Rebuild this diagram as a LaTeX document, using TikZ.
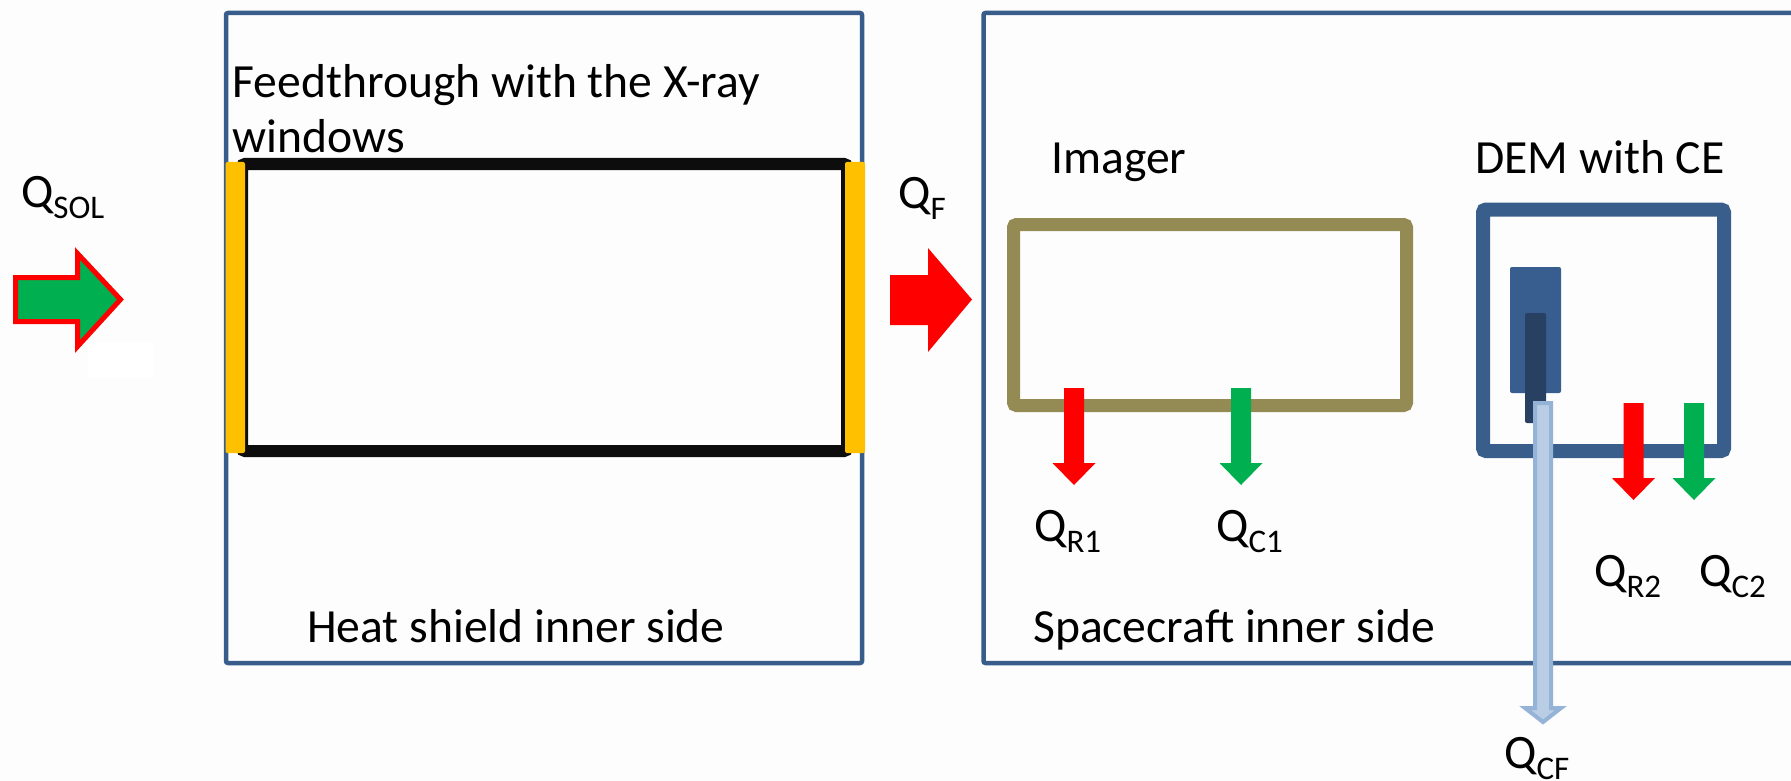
\documentclass[tikz,border=0pt]{standalone}
\usepackage{fontspec}
\setmainfont{Carlito}
\definecolor{frameblue}{RGB}{56,93,138}
\definecolor{demblue}{RGB}{58,94,140}
\definecolor{plugblue}{RGB}{55,94,143}
\definecolor{plugdark}{RGB}{40,64,98}
\definecolor{pipefill}{RGB}{185,205,229}
\definecolor{pipeedge}{RGB}{149,179,215}
\definecolor{flowred}{RGB}{255,0,0}
\definecolor{flowgreen}{RGB}{0,176,80}
\definecolor{windowgold}{RGB}{255,192,0}
\definecolor{imagerolive}{RGB}{148,138,84}
\definecolor{feedblack}{RGB}{13,13,13}
\definecolor{pagebg}{RGB}{253,253,253}
\newcommand{\heatsub}[1]{\raisebox{-11pt}{\fontsize{33}{36}\selectfont #1}}
\tikzset{
  txt/.style={anchor=base west, inner sep=0pt, font=\fontsize{47.6}{55}\selectfont},
  qlabel/.style={anchor=base west, inner sep=0pt, font=\fontsize{48}{55}\selectfont},
  wall/.style={draw=frameblue, line width=4.5pt, rounded corners=2pt},
  downflow/.pic={\path[pic actions] (-10,0) -- (10,0) -- (10,75) -- (21.5,75) -- (0,97) -- (-21.5,75) -- (-10,75) -- cycle;},
}
\begin{document}
\begin{tikzpicture}[x=1pt,y=-1pt]
\useasboundingbox (0,0) rectangle (1791,781);
\fill[pagebg] (0,0) rectangle (1791,781);
\fill[white] (88,342) rectangle (154,378);

% heat shield and spacecraft walls
\draw[wall] (226,13) rectangle (862,663);
\draw[wall] (1800,13) -- (983.5,13) -- (983.5,663) -- (1800,663);

% feedthrough with its two windows
\draw[feedblack, line width=12pt, rounded corners=3pt] (242,164) rectangle (847,451);
\fill[windowgold, rounded corners=2pt] (225.5,162) rectangle (245,453);
\fill[windowgold, rounded corners=2pt] (845,162) rectangle (865,453);

% imager
\draw[imagerolive, line width=13pt, rounded corners=3pt] (1013.5,224.5) rectangle (1406.5,405.5);

% DEM housing, connector and cold finger
\draw[demblue, line width=14pt, rounded corners=3pt] (1483,209.5) rectangle (1724,451);
\fill[plugblue, rounded corners=2pt] (1510,267) rectangle (1561,393);
\fill[plugdark, rounded corners=2pt] (1525,313) rectangle (1546,423);
\filldraw[fill=pipefill, draw=pipeedge, line width=4pt]
  (1535,403) -- (1551,403) -- (1551,708) -- (1561,708) -- (1543,722)
  -- (1525,708) -- (1535,708) -- cycle;

% incoming heat flows
\filldraw[fill=flowgreen, draw=flowred, line width=5pt]
  (15.5,277.5) -- (77.5,277.5) -- (77.5,253.5) -- (120.5,299.5) -- (77.5,346.5)
  -- (77.5,321.5) -- (15.5,321.5) -- cycle;
\fill[flowred] (890,275) -- (928,275) -- (928,248) -- (972,299.5) -- (928,352)
  -- (928,325) -- (890,325) -- cycle;

% outgoing radiative and conductive flows
\pic[fill=flowred] at (1074,388) {downflow};
\pic[fill=flowgreen] at (1241,388) {downflow};
\pic[fill=flowred] at (1633.5,403) {downflow};
\pic[fill=flowgreen] at (1694,403) {downflow};

% captions
\node[txt] (feedA) at (232.5,98) {Feedthrough with the X-ray};
\node[txt] (feedB) at (232.5,153) {windows};
\node[txt] (imager) at (1051,173) {Imager};
\node[txt] (dem) at (1475,173) {DEM with CE};
\node[txt] (shield) at (307,642) {Heat shield inner side};
\node[txt] (craft) at (1033,642) {Spacecraft inner side};

% heat flow labels
\node[qlabel] (qsol) at (21,207) {Q\heatsub{SOL}};
\node[qlabel] (qf) at (898,208) {Q\heatsub{F}};
\node[qlabel] (qr1) at (1034,541) {Q\heatsub{R1}};
\node[qlabel] (qc1) at (1216,541) {Q\heatsub{C1}};
\node[qlabel] (qr2) at (1594,586) {Q\heatsub{R2}};
\node[qlabel] (qc2) at (1699,586) {Q\heatsub{C2}};
\node[qlabel] (qcf) at (1504,768) {Q\heatsub{CF}};
\end{tikzpicture}
\end{document}
